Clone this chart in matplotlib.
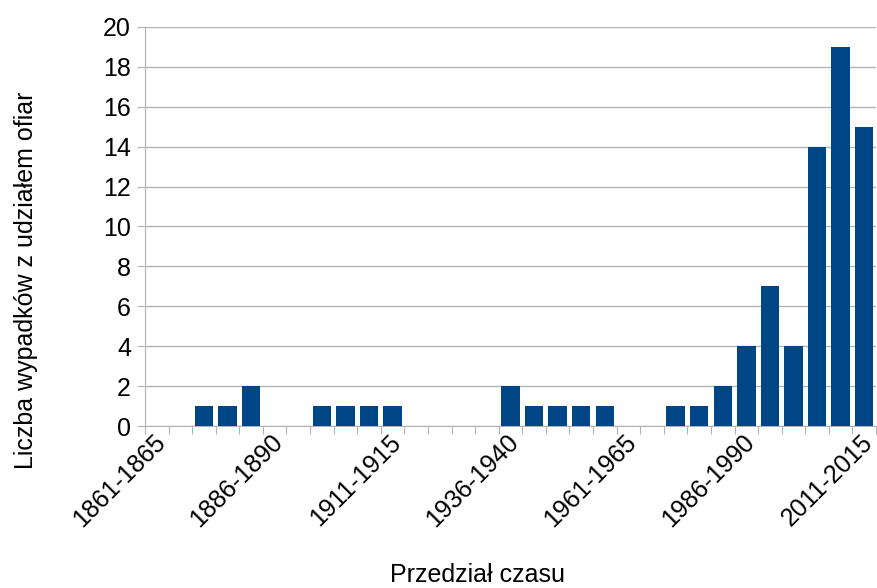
import matplotlib.pyplot as plt
import matplotlib.transforms as mtransforms

plt.rcParams['font.family'] = ['Liberation Sans', 'DejaVu Sans']

start_years = list(range(1861, 2016, 5))
przedzialy = [f"{y}-{y + 4}" for y in start_years]
liczba = [0, 0, 1, 1, 2, 0, 0, 1, 1, 1, 1, 0, 0, 0, 0, 2,
          1, 1, 1, 1, 0, 0, 1, 1, 2, 4, 7, 4, 14, 19, 15]

fig = plt.figure(figsize=(8.77, 5.88), dpi=100)
ax = fig.add_axes([145 / 877, 1 - 426 / 588, 731 / 877, 399 / 588])

x = range(len(przedzialy))
ax.bar(x, liczba, width=0.78, color="#004586", zorder=3)

ax.set_xlim(-0.5, len(przedzialy) - 0.5)
ax.set_ylim(0, 20)
ax.set_yticks(range(0, 21, 2))
ax.yaxis.grid(True, color="#b3b3b3", linewidth=1, zorder=0)

# ticks on category boundaries, labels every 5th category
ax.set_xticks([i - 0.5 for i in range(len(przedzialy) + 1)], minor=False)
ax.set_xticklabels([])
ax.set_xticks([i for i in range(0, len(przedzialy), 5)], minor=True)
ax.set_xticklabels([przedzialy[i] for i in range(0, len(przedzialy), 5)],
                   minor=True, rotation=45, ha="right", rotation_mode="anchor",
                   fontsize=18)
ax.tick_params(axis="x", which="minor", length=0, pad=3)
ax.tick_params(axis="x", which="major", length=6, color="#b3b3b3")
ax.tick_params(axis="y", length=6, color="#b3b3b3", labelsize=18, pad=4)

shift = mtransforms.ScaledTranslation(-4 / 100, 0, fig.dpi_scale_trans)
for lab in ax.get_xticklabels(minor=True):
    lab.set_transform(lab.get_transform() + shift)

for s in ["top", "right"]:
    ax.spines[s].set_visible(False)
ax.spines["left"].set_color("#b3b3b3")
ax.spines["bottom"].set_color("#b3b3b3")

ax.set_ylabel("Liczba wypadków z udziałem ofiar", fontsize=18)
ax.yaxis.set_label_coords((38 - 145) / 731, (426 - 280) / 399)
fig.text(477 / 877, 1 - 575 / 588, "Przedział czasu", fontsize=18,
         ha="center", va="center")

fig.savefig("out.png", dpi=100)
